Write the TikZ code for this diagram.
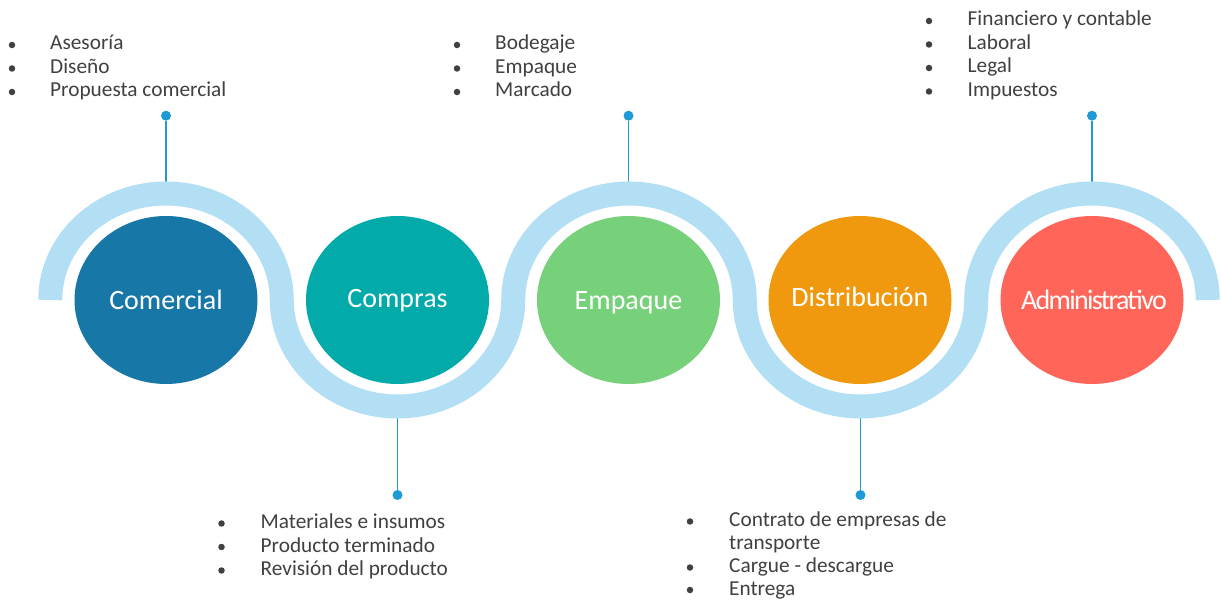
\documentclass[tikz,border=0pt]{standalone}
\usepackage{fontspec}
\setmainfont{Carlito}
\usetikzlibrary{shapes.geometric}
\definecolor{bandc}{HTML}{B3DFF4}
\definecolor{stemc}{HTML}{1E9AD6}
\definecolor{txtc}{HTML}{404040}
\definecolor{c1}{HTML}{1778A8}
\definecolor{c2}{HTML}{02ABA9}
\definecolor{c3}{HTML}{77D17A}
\definecolor{c4}{HTML}{F0990E}
\definecolor{c5}{HTML}{FF6659}
\begin{document}
\begin{tikzpicture}[x=1pt,y=1pt,
  disc/.style={ellipse, minimum width=183pt, minimum height=168pt, inner sep=0pt},
  disctext/.style={anchor=base, inner sep=0pt, text=white, font=\fontsize{28}{30}\selectfont},
  pin/.style={circle, fill=stemc, inner sep=0pt, minimum size=10pt},
  stemline/.style={draw=stemc, line width=1.3pt},
  item/.style={anchor=base west, inner sep=0pt, text=txtc, font=\fontsize{21.3}{23.5}\selectfont},
  dotb/.style={circle, fill=txtc, inner sep=0pt, minimum size=6.5pt},
  bandline/.style={draw=bandc, line width=24pt}]
\useasboundingbox (0,0) rectangle (1221,600);

% stems
\node[pin] (p1) at (166,484.3) {};
\node[pin] (p2) at (397.5,105) {};
\node[pin] (p3) at (628.5,484.3) {};
\node[pin] (p4) at (860.5,105) {};
\node[pin] (p5) at (1092,484.3) {};
\coordinate (s1) at (166,412);
\coordinate (s2) at (397.5,188);
\coordinate (s3) at (628.5,412);
\coordinate (s4) at (860.5,188);
\coordinate (s5) at (1092,412);
\foreach \i in {1,...,5} \draw[stemline] (p\i) -- (s\i);

% wave band
\draw[bandline] (50.25,300)
  arc[start angle=180, end angle=0, x radius=115.75pt, y radius=106.5pt]
  arc[start angle=180, end angle=360, x radius=115.75pt, y radius=106.5pt]
  arc[start angle=180, end angle=0, x radius=115.75pt, y radius=106.5pt]
  arc[start angle=180, end angle=360, x radius=115.75pt, y radius=106.5pt]
  arc[start angle=180, end angle=0, x radius=115.75pt, y radius=106.5pt];

% discs
\node[disc, fill=c1] (n1) at (166,300) {};
\node[disc, fill=c2] (n2) at (397.5,300) {};
\node[disc, fill=c3] (n3) at (628.5,300) {};
\node[disc, fill=c4] (n4) at (860,300) {};
\node[disc, fill=c5] (n5) at (1092,300) {};
\node[disctext] (l1) at (166,290) {Comercial};
\node[disctext] (l2) at (397.5,292.5) {Compras};
\node[disctext] (l3) at (628.5,290.5) {Empaque};
\node[disctext] (l4) at (860,293) {Distribución};
\node[disctext] (l5) at (1094,290.5) {\addfontfeatures{LetterSpace=-6}Administrativo};

% bullet lists
\foreach \bx/\tx/\yy/\t [count=\i] in {
  12/50/550/Asesoría, 12/50/526.5/Diseño, 12/50/503/Propuesta comercial,
  457/495/550/Bodegaje, 457/495/526.5/Empaque, 457/495/503/Marcado,
  929/967.5/574/Financiero y contable, 929/967.5/550.5/Laboral, 929/967.5/527/Legal, 929/967.5/503.5/Impuestos,
  221.5/260.5/71.5/Materiales e insumos, 221.5/260.5/48/Producto terminado, 221.5/260.5/24.5/Revisión del producto,
  690/729/73.5/Contrato de empresas de, 690/729/27.5/Cargue - descargue, 690/729/5/Entrega}
{
  \node[dotb] (b\i) at (\bx,\yy+5) {};
  \node[item] (t\i) at (\tx,\yy) {\t};
}
\node[item] (t17) at (729,50.5) {transporte};
\end{tikzpicture}
\end{document}
